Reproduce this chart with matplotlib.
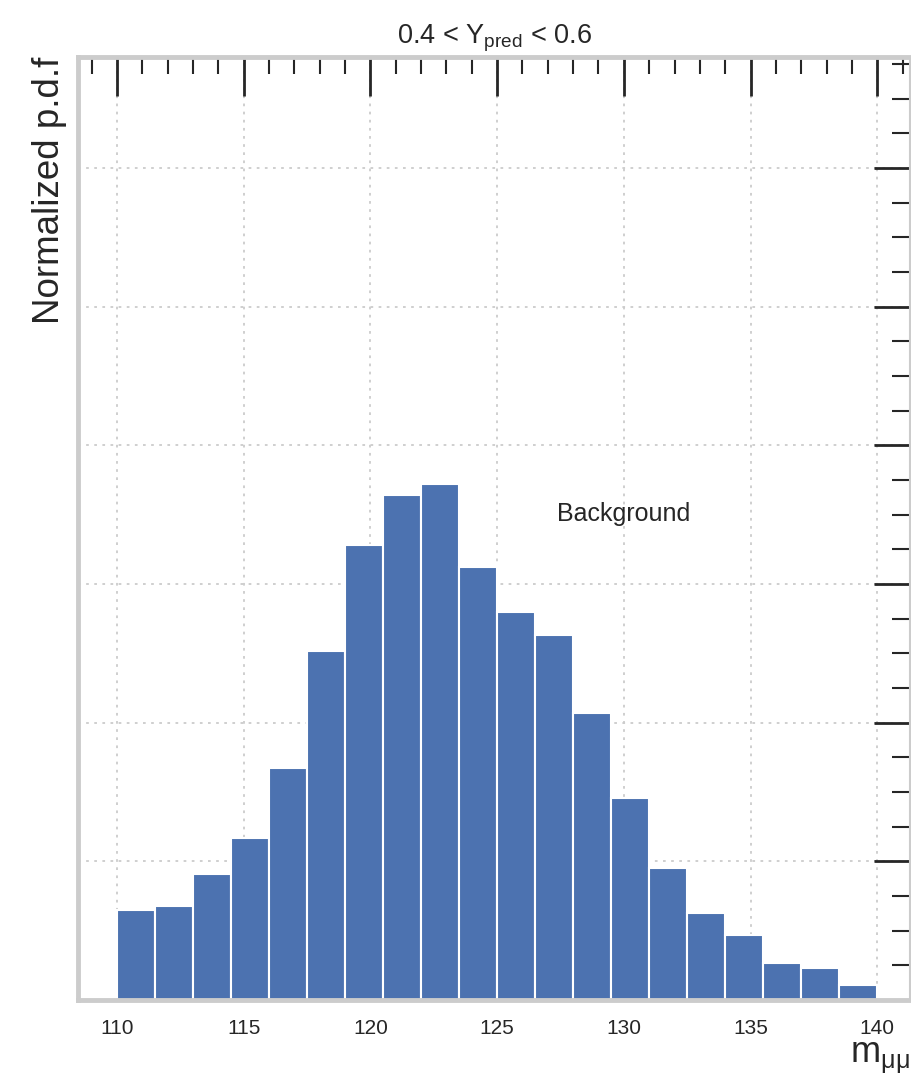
import matplotlib
matplotlib.use("Agg")
import matplotlib.pyplot as plt
from matplotlib.ticker import MultipleLocator
import numpy as np

# Data (bin edges 110..140, width 1.5)
bin_edges = [110.0, 111.5, 113.0, 114.5, 116.0, 117.5, 119.0, 120.5, 122.0, 123.5, 125.0,
             126.5, 128.0, 129.5, 131.0, 132.5, 134.0, 135.5, 137.0, 138.5, 140.0]
density = [0.0130, 0.0136, 0.0182, 0.0234, 0.0334, 0.0504, 0.0656, 0.0728, 0.0744, 0.0624,
           0.0560, 0.0526, 0.0414, 0.0292, 0.0190, 0.0126, 0.0094, 0.0054, 0.0046, 0.0022]
x_ticks = [110, 115, 120, 125, 130, 135, 140]
title = "0.4 < Y$_\\mathregular{pred}$ < 0.6"
label_text = "Background"

plt.rcParams['font.family'] = ['Liberation Sans', 'DejaVu Sans']
plt.rcParams['mathtext.fontset'] = 'custom'
plt.rcParams['mathtext.rm'] = 'Liberation Sans'
plt.rcParams['mathtext.it'] = 'Liberation Sans'

fig = plt.figure(figsize=(9.12, 10.86), dpi=100)
ax = fig.add_axes([0.0855, 0.0792, 0.9125, 0.8683])

lefts = np.array(bin_edges[:-1])
widths = np.diff(bin_edges)
ax.bar(lefts, density, width=widths, align='edge', color='#4c72b0', edgecolor='white', linewidth=1.5, zorder=2)

ax.set_xlim(108.46, 141.3)
ax.set_ylim(0, 0.136)

ax.set_xticks(x_ticks)
ax.xaxis.set_minor_locator(MultipleLocator(1))
ax.yaxis.set_major_locator(MultipleLocator(0.02))
ax.yaxis.set_minor_locator(MultipleLocator(0.005))

ax.tick_params(axis='x', which='both', top=True, bottom=False, labeltop=False, labelbottom=True,
               direction='in', colors='#262626', labelsize=15, pad=14)
ax.tick_params(axis='x', which='major', length=28, width=2)
ax.tick_params(axis='x', which='minor', length=12, width=1.5)
ax.tick_params(axis='y', which='both', right=True, left=False, labelleft=False, labelright=False,
               direction='in', colors='#262626')
ax.tick_params(axis='y', which='major', length=26, width=2)
ax.tick_params(axis='y', which='minor', length=13, width=1.5)

ax.grid(True, which='major', linestyle=(0, (1.5, 3)), color='#cccccc', linewidth=1.3, zorder=0)
ax.set_axisbelow(True)

for side in ['left', 'bottom', 'top']:
    ax.spines[side].set_color('#cccccc')
    ax.spines[side].set_linewidth(3.5)
ax.spines['right'].set_color('#cccccc')
ax.spines['right'].set_linewidth(1.5)

ax.set_ylabel("Normalized p.d.f", fontsize=26.5, loc='top', color='#262626', labelpad=8)
ax.set_xlabel("m$_{\\mu\\mu}$", fontsize=26, loc='right', color='#262626', labelpad=2)
ax.set_title(title, fontsize=19.5, color='#262626', pad=10)

ax.text(130.0, 0.0701, label_text, fontsize=18, color='#262626', ha='center', va='center')

fig.savefig("out.png", dpi=100)
